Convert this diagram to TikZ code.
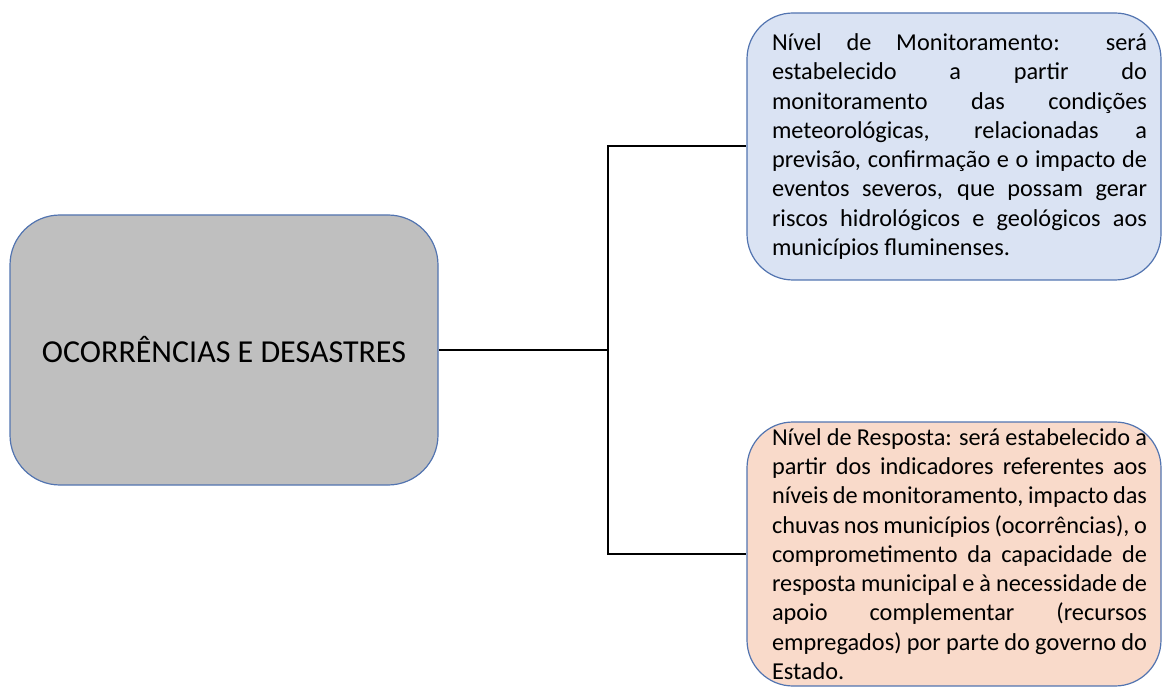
\documentclass[tikz,border=0pt]{standalone}
\usepackage{fontspec}
\setmainfont{Carlito}
\definecolor{boxline}{RGB}{82,116,176}
\definecolor{greyfill}{RGB}{191,191,191}
\definecolor{bluefill}{RGB}{218,227,243}
\definecolor{peachfill}{RGB}{249,218,202}
\newcommand{\jline}[1]{\hspace*{11pt}\makebox[375pt][s]{#1}\\}
\newcommand{\lastline}[1]{\hspace*{11pt}#1}
\tikzset{
  card/.style={draw=boxline, line width=1.2pt, rounded corners=46pt, align=left, inner sep=0pt},
  bodytext/.style={font=\fontsize{24.3}{29.3}\selectfont},
  link/.style={draw=black, line width=2pt}
}
\begin{document}
\begin{tikzpicture}[x=1pt,y=-1pt]
\useasboundingbox (0,0) rectangle (1163,687);
\node[card, fill=greyfill, minimum width=428pt, minimum height=270pt, rounded corners=50pt,
      font=\fontsize{32}{38}\selectfont] (main) at (224,350) {OCORRÊNCIAS E DESASTRES};
\node[card, fill=bluefill, minimum width=414pt, minimum height=267pt, bodytext] (mon) at (954,146.5)
{\jline{Nível de Monitoramento: será}
 \jline{estabelecido a partir do}
 \jline{monitoramento das condições}
 \jline{meteorológicas, relacionadas a}
 \jline{previsão, confirmação e o impacto de}
 \jline{eventos severos, que possam gerar}
 \jline{riscos hidrológicos e geológicos aos}
 \lastline{municípios fluminenses.}};
\node[card, fill=peachfill, minimum width=414pt, minimum height=264pt, bodytext] (resp) at (954,554)
{\jline{Nível de Resposta: será estabelecido a}
 \jline{partir dos indicadores referentes aos}
 \jline{níveis de monitoramento, impacto das}
 \jline{chuvas nos municípios (ocorrências), o}
 \jline{comprometimento da capacidade de}
 \jline{resposta municipal e à necessidade de}
 \jline{apoio complementar (recursos}
 \jline{empregados) por parte do governo do}
 \lastline{Estado.}};
\coordinate (j) at (608,350);
\draw[link] (main.east) -- (j);
\draw[link] (j) |- (mon.west);
\draw[link] (j) |- (resp.west);
\end{tikzpicture}
\end{document}
